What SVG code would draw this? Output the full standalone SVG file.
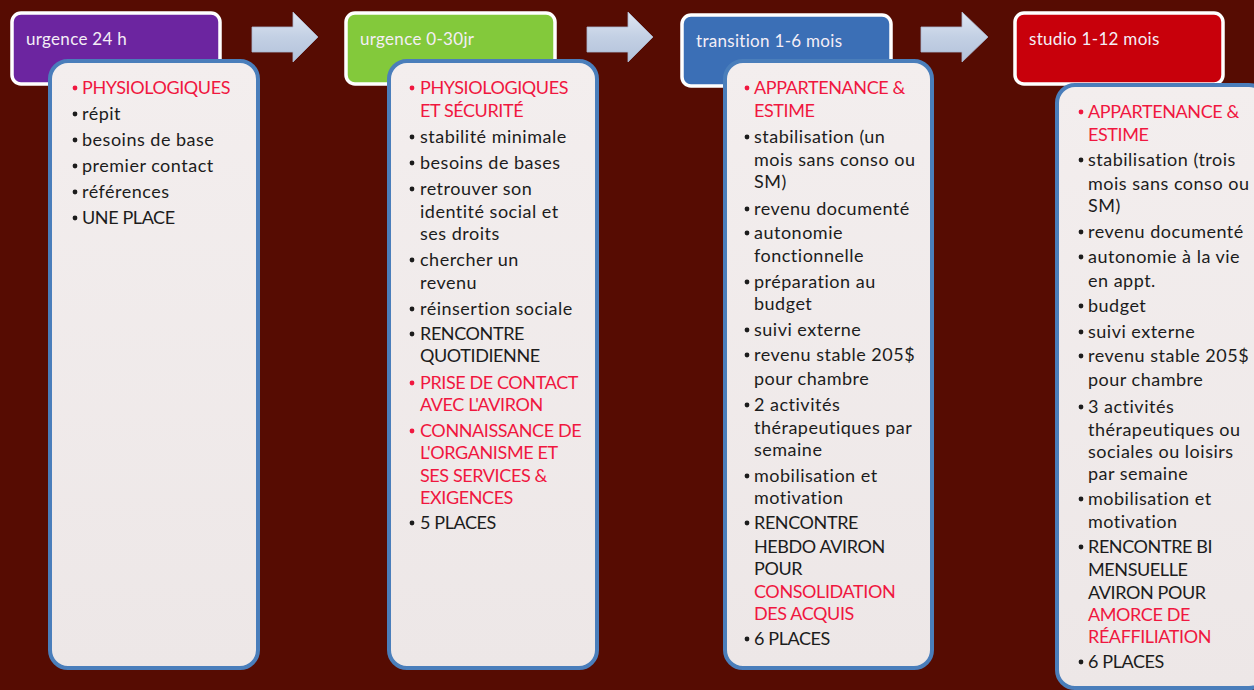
<svg xmlns="http://www.w3.org/2000/svg" width="1254" height="690" viewBox="0 0 1254 690">
<defs>
<linearGradient id="arr" x1="0" y1="0" x2="0" y2="1">
<stop offset="0" stop-color="#dfe7f3"/><stop offset="0.5" stop-color="#c3d0e4"/><stop offset="1" stop-color="#b3c2da"/>
</linearGradient>
<linearGradient id="card" x1="0" y1="0" x2="0" y2="1">
<stop offset="0" stop-color="#f3eeee"/><stop offset="1" stop-color="#ede7e7"/>
</linearGradient>
<style>
.hdr{stroke:#ffffff;stroke-width:3.5}
.htxt{font-family:Lato,"Liberation Sans",sans-serif;font-size:17px;fill:#f4eef6;letter-spacing:0.3px}
.card{fill:url(#card);stroke:#4a7ebb;stroke-width:4}
.t{font-family:Lato,"Liberation Sans",sans-serif;font-size:18px;fill:#1c1c1c;letter-spacing:0.5px}
.c{letter-spacing:-0.4px}
.r{fill:#f0173f}
.b{fill:#1c1c1c}
.br{fill:#f0173f}
.arrow{fill:url(#arr);stroke:#a9b8d0;stroke-width:0.8}
</style>
</defs>
<rect x="0" y="0" width="1254" height="690" fill="#560c02"/>

<g id="connectors">
<path class="arrow" d="M252,27 H293 V12 L318,37 L293,62 V52 H252 Z"/>
<path class="arrow" d="M587,27 H628 V12 L653,37 L628,62 V52 H587 Z"/>
<path class="arrow" d="M921,27 H962 V12 L988,37 L962,62 V52 H921 Z"/>
</g>

<g id="header-urgence24">
<rect class="hdr" x="12" y="13" width="208" height="71" rx="9" fill="#6c25a0"/>
<text class="htxt" x="26" y="45">urgence 24 h</text>
</g>
<g id="header-urgence030">
<rect class="hdr" x="346" y="13" width="209" height="71" rx="9" fill="#83c93b"/>
<text class="htxt" x="360" y="45">urgence 0-30jr</text>
</g>
<g id="header-transition">
<rect class="hdr" x="682" y="15" width="209" height="71" rx="9" fill="#3b6fb6"/>
<text class="htxt" x="696" y="47">transition 1-6 mois</text>
</g>
<g id="header-studio">
<rect class="hdr" x="1015" y="13" width="208" height="71" rx="9" fill="#c8000b"/>
<text class="htxt" x="1029" y="45">studio 1-12 mois</text>
</g>

<g id="card-urgence24">
<rect class="card" x="50" y="61" width="208" height="607" rx="18"/>
<g class="t">
<circle class="br" cx="75" cy="88" r="2.4"/><text x="82" y="94" class="r c">PHYSIOLOGIQUES</text>
<circle class="b" cx="75" cy="114" r="2.4"/><text x="82" y="120">répit</text>
<circle class="b" cx="75" cy="140" r="2.4"/><text x="82" y="146">besoins de base</text>
<circle class="b" cx="75" cy="166" r="2.4"/><text x="82" y="172">premier contact</text>
<circle class="b" cx="75" cy="192" r="2.4"/><text x="82" y="198">références</text>
<circle class="b" cx="75" cy="218" r="2.4"/><text x="82" y="224" class="c">UNE PLACE</text>
</g>
</g>

<g id="card-urgence030">
<rect class="card" x="389" y="61" width="208" height="607" rx="18"/>
<g class="t">
<circle class="br" cx="412" cy="88" r="2.4"/><text x="420" y="94" class="r c">PHYSIOLOGIQUES</text>
<text x="420" y="117" class="r c">ET SÉCURITÉ</text>
<circle class="b" cx="412" cy="137" r="2.4"/><text x="420" y="143">stabilité minimale</text>
<circle class="b" cx="412" cy="163" r="2.4"/><text x="420" y="169">besoins de bases</text>
<circle class="b" cx="412" cy="189" r="2.4"/><text x="420" y="195">retrouver son</text>
<text x="420" y="218">identité social et</text>
<text x="420" y="240">ses droits</text>
<circle class="b" cx="412" cy="260" r="2.4"/><text x="420" y="266">chercher un</text>
<text x="420" y="289">revenu</text>
<circle class="b" cx="412" cy="309" r="2.4"/><text x="420" y="315">réinsertion sociale</text>
<circle class="b" cx="412" cy="334" r="2.4"/><text x="420" y="340" class="c">RENCONTRE</text>
<text x="420" y="362" class="c">QUOTIDIENNE</text>
<circle class="br" cx="412" cy="383" r="2.4"/><text x="420" y="389" class="r c">PRISE DE CONTACT</text>
<text x="420" y="411" class="r c">AVEC L'AVIRON</text>
<circle class="br" cx="412" cy="431" r="2.4"/><text x="420" y="437" class="r c">CONNAISSANCE DE</text>
<text x="420" y="459" class="r c">L'ORGANISME ET</text>
<text x="420" y="482" class="r c">SES SERVICES &amp;</text>
<text x="420" y="504" class="r c">EXIGENCES</text>
<circle class="b" cx="412" cy="523" r="2.4"/><text x="420" y="529" class="c">5 PLACES</text>
</g>
</g>

<g id="card-transition">
<rect class="card" x="725" y="61" width="207" height="607" rx="18"/>
<g class="t">
<circle class="br" cx="747" cy="88" r="2.4"/><text x="754" y="94" class="r c">APPARTENANCE &amp;</text>
<text x="754" y="117" class="r c">ESTIME</text>
<circle class="b" cx="747" cy="137" r="2.4"/><text x="754" y="143">stabilisation (un</text>
<text x="754" y="166">mois sans conso ou</text>
<text x="754" y="188">SM)</text>
<circle class="b" cx="747" cy="209" r="2.4"/><text x="754" y="215">revenu documenté</text>
<circle class="b" cx="747" cy="233" r="2.4"/><text x="754" y="239">autonomie</text>
<text x="754" y="262">fonctionnelle</text>
<circle class="b" cx="747" cy="282" r="2.4"/><text x="754" y="288">préparation au</text>
<text x="754" y="310">budget</text>
<circle class="b" cx="747" cy="330" r="2.4"/><text x="754" y="336">suivi externe</text>
<circle class="b" cx="747" cy="355" r="2.4"/><text x="754" y="361">revenu stable 205$</text>
<text x="754" y="385">pour chambre</text>
<circle class="b" cx="747" cy="405" r="2.4"/><text x="754" y="411">2 activités</text>
<text x="754" y="434">thérapeutiques par</text>
<text x="754" y="456">semaine</text>
<circle class="b" cx="747" cy="476" r="2.4"/><text x="754" y="482">mobilisation et</text>
<text x="754" y="504">motivation</text>
<circle class="b" cx="747" cy="523" r="2.4"/><text x="754" y="529" class="c">RENCONTRE</text>
<text x="754" y="553" class="c">HEBDO AVIRON</text>
<text x="754" y="575" class="c">POUR</text>
<text x="754" y="598" class="r c">CONSOLIDATION</text>
<text x="754" y="620" class="r c">DES ACQUIS</text>
<circle class="b" cx="747" cy="639" r="2.4"/><text x="754" y="645" class="c">6 PLACES</text>
</g>
</g>

<g id="card-studio">
<rect class="card" x="1057" y="85" width="210" height="603" rx="18"/>
<g class="t">
<circle class="br" cx="1081" cy="112" r="2.4"/><text x="1088" y="118" class="r c">APPARTENANCE &amp;</text>
<text x="1088" y="141" class="r c">ESTIME</text>
<circle class="b" cx="1081" cy="160" r="2.4"/><text x="1088" y="166">stabilisation (trois</text>
<text x="1088" y="190">mois sans conso ou</text>
<text x="1088" y="212">SM)</text>
<circle class="b" cx="1081" cy="232" r="2.4"/><text x="1088" y="238">revenu documenté</text>
<circle class="b" cx="1081" cy="257" r="2.4"/><text x="1088" y="263">autonomie à la vie</text>
<text x="1088" y="287">en appt.</text>
<circle class="b" cx="1081" cy="306" r="2.4"/><text x="1088" y="312">budget</text>
<circle class="b" cx="1081" cy="332" r="2.4"/><text x="1088" y="338">suivi externe</text>
<circle class="b" cx="1081" cy="356" r="2.4"/><text x="1088" y="362">revenu stable 205$</text>
<text x="1088" y="386">pour chambre</text>
<circle class="b" cx="1081" cy="407" r="2.4"/><text x="1088" y="413">3 activités</text>
<text x="1088" y="436">thérapeutiques ou</text>
<text x="1088" y="458">sociales ou loisirs</text>
<text x="1088" y="480">par semaine</text>
<circle class="b" cx="1081" cy="499" r="2.4"/><text x="1088" y="505">mobilisation et</text>
<text x="1088" y="528">motivation</text>
<circle class="b" cx="1081" cy="547" r="2.4"/><text x="1088" y="553" class="c">RENCONTRE BI</text>
<text x="1088" y="576" class="c">MENSUELLE</text>
<text x="1088" y="599" class="c">AVIRON POUR</text>
<text x="1088" y="621" class="r c">AMORCE DE</text>
<text x="1088" y="643" class="r c">RÉAFFILIATION</text>
<circle class="b" cx="1081" cy="662" r="2.4"/><text x="1088" y="668" class="c">6 PLACES</text>
</g>
</g>
</svg>
